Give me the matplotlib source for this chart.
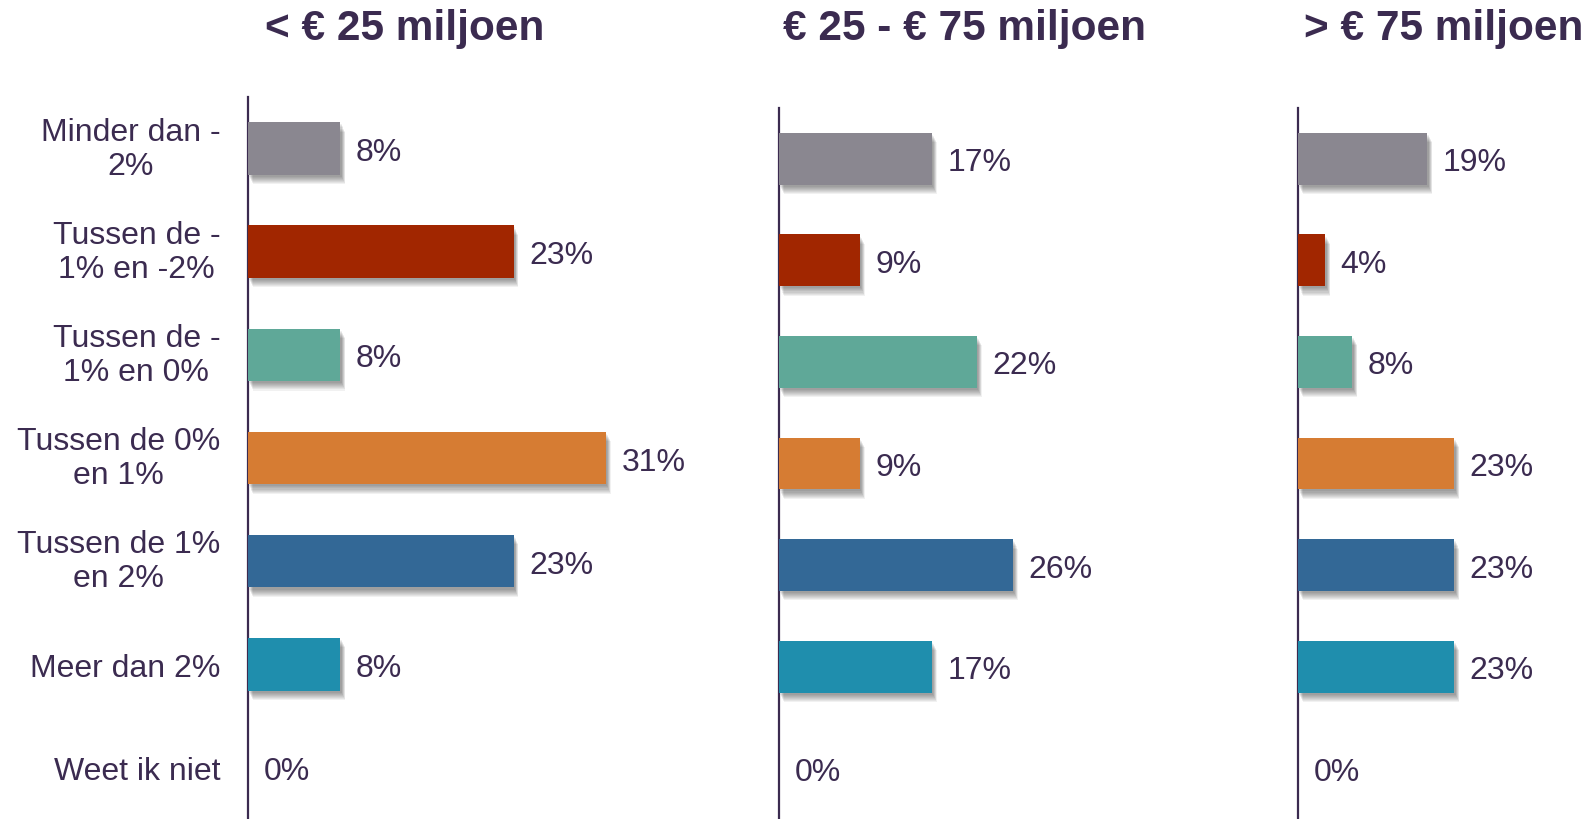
import matplotlib
matplotlib.use("Agg")
import matplotlib.pyplot as plt
import matplotlib.patheffects as pe

categories = ["Minder dan -\n2%", "Tussen de -\n1% en -2%", "Tussen de -\n1% en 0%",
              "Tussen de 0%\nen 1%", "Tussen de 1%\nen 2%", "Meer dan 2%", "Weet ik niet"]
titles = ["< € 25 miljoen", "€ 25 - € 75 miljoen", "> € 75 miljoen"]
small = [8, 23, 8, 31, 23, 8, 0]
medium = [17, 9, 22, 9, 26, 17, 0]
large = [19, 4, 8, 23, 23, 23, 0]
values = [small, medium, large]
colors = ["#8A8790", "#A12600", "#5FA898", "#D67C33", "#336896", "#1F8EAD", "#1F8EAD"]

TXT = "#3B2B50"
W, H = 1588, 820
fig = plt.figure(figsize=(W / 100, H / 100), dpi=100)
plt.rcParams['font.family'] = ['Liberation Sans', 'DejaVu Sans']

# panel geometry in pixels: (axis x, top y, width, xlim, title x)
panels = [
    (248, 98, 492, 492 / 11.55, 265),
    (779, 109, 491, 491 / 9.0, 783),
    (1298, 109, 290, 290 / 6.8, 1304),
]

shadow = []
for i in range(8):
    shadow.append(pe.SimplePatchShadow(offset=(1.0 + 0.35 * i, -1.5 - 0.75 * i),
                                       shadow_rgbFace="black", alpha=0.055))
shadow.append(pe.Normal())

for k, (ax_x, top, width, xmax, tx) in enumerate(panels):
    ax = fig.add_axes([ax_x / W, 0, width / W, (H - top) / H])
    vals = values[k]
    ys = list(range(len(categories)))
    bars = ax.barh(ys, vals, height=0.51, color=colors, zorder=3)
    for b in bars:
        b.set_path_effects(shadow)
    for y, v in zip(ys, vals):
        ax.annotate(f"{v}%", (v, y), xytext=(11, 0), textcoords="offset points",
                    ha="left", va="center_baseline", fontsize=23, color=TXT)
    ax.set_xlim(0, xmax)
    ax.set_ylim(6.5, -0.5)
    ax.set_xticks([])
    for s in ["top", "right", "bottom"]:
        ax.spines[s].set_visible(False)
    ax.spines["left"].set_color(TXT)
    ax.spines["left"].set_linewidth(1.6)
    ax.set_facecolor("none")
    if k == 0:
        ax.set_yticks(ys)
        ax.set_yticklabels(categories, fontsize=23, color=TXT, multialignment="center",
                           linespacing=1.18)
        ax.tick_params(axis="y", length=0, pad=20)
        for lab in ax.get_yticklabels():
            if "\n" in lab.get_text():
                lab.set_verticalalignment("center")
            else:
                lab.set_verticalalignment("center_baseline")
    else:
        ax.set_yticks([])
    fig.text(tx / W, (H - 40) / H, titles[k], ha="left", va="baseline",
             fontsize=30.5, fontweight="bold", color=TXT)

fig.savefig("out.png", dpi=100)
